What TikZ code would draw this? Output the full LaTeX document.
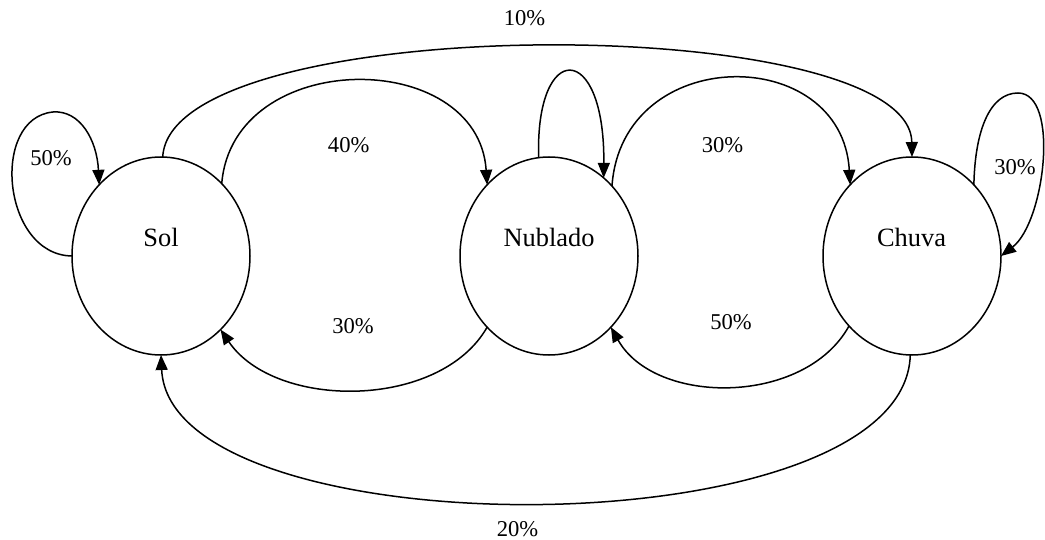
\documentclass[tikz,border=0pt]{standalone}
\usepackage{fontspec}
\setmainfont{Liberation Serif}
\usetikzlibrary{arrows.meta,shapes.geometric}
\begin{document}
\begin{tikzpicture}[x=1pt,y=-1pt,
  st/.style={ellipse,draw,line width=1.5pt,minimum width=178pt,minimum height=198pt,inner sep=0pt,outer sep=0pt},
  ntxt/.style={anchor=base,font=\fontsize{26.4}{30}\selectfont,inner sep=0pt},
  lbl/.style={anchor=base,font=\fontsize{22.6}{26}\selectfont,inner sep=0pt},
  edge/.style={line width=1.5pt,-{Triangle[length=15pt,width=12pt]}}]
\useasboundingbox (0,0) rectangle (1045,540);
% states
\node[st] (sol) at (161,256) {};
\node[st] (nub) at (549,256) {};
\node[st] (chu) at (912,256) {};
\node[ntxt] (soltxt) at (161,247) {Sol};
\node[ntxt] (nubtxt) at (549,247) {Nublado};
\node[ntxt] (chutxt) at (911.5,247) {Chuva};
% self loops
\draw[edge] (sol.180) .. controls (2,255) and (-10,118) .. (53,112)
  .. controls (80,110) and (97,140) .. (sol.131);
\draw[edge] (nub.96) .. controls (535,40) and (605,40) .. (nub.55);
\draw[edge] (chu.49) .. controls (975,130) and (990,93) .. (1018,93)
  .. controls (1060,93) and (1045,222) .. (chu.0);
% upper arcs
\draw[edge] (sol.89) .. controls (170,10) and (910,10) .. (chu.90);
\draw[edge] (sol.50) .. controls (233,47) and (478,47) .. (nub.131);
\draw[edge] (nub.48) .. controls (622,43) and (842,43) .. (chu.131);
% lower arcs
\draw[edge] (nub.229) .. controls (440,410) and (275,410) .. (sol.-51);
\draw[edge] (chu.228) .. controls (805,406) and (655,406) .. (nub.-49);
\draw[edge] (chu.-91) .. controls (905,552) and (170,552) .. (sol.-90);
% labels
\node[lbl] (l50a) at (51,166) {50\%};
\node[lbl] (l10) at (524.6,26) {10\%};
\node[lbl] (l40) at (348.7,153) {40\%};
\node[lbl] (l30a) at (722.5,153) {30\%};
\node[lbl] (l30b) at (1015,175) {30\%};
\node[lbl] (l30c) at (353,333.3) {30\%};
\node[lbl] (l50b) at (731,329.3) {50\%};
\node[lbl] (l20) at (517.5,536.7) {20\%};
\end{tikzpicture}
\end{document}
